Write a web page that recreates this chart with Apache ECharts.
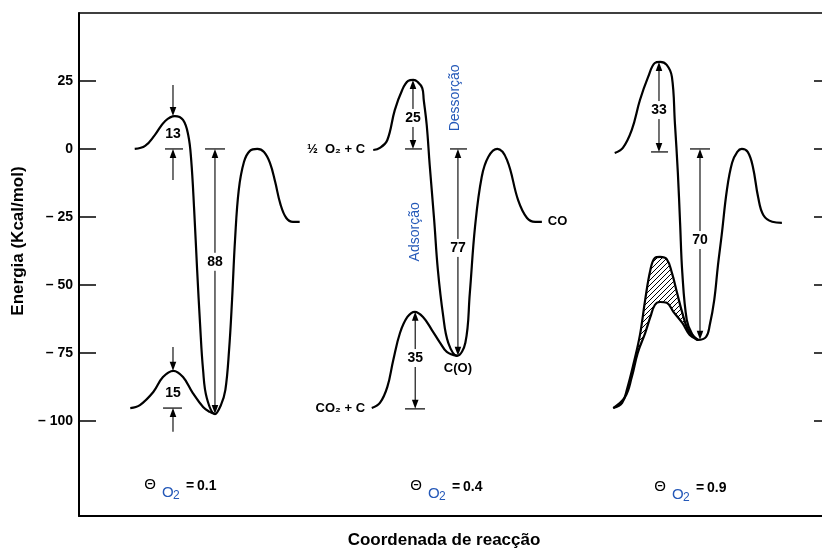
<!DOCTYPE html>
<html><head><meta charset="utf-8">
<script src="https://cdn.jsdelivr.net/npm/echarts@6/dist/echarts.min.js"></script>
<style>html,body{margin:0;padding:0;background:#fff}#c{width:822px;height:549px}</style>
</head><body><div id="c"></div>
<script>
// ---------- DATA (x: reaction coordinate 0..100, y: energy kcal/mol) ----------
const yTickValues = [25, 0, -25, -50, -75, -100];

// Panel 1 (theta = 0.1)
const p1Oxygen = [[7.5,0],[8.9,1.1],[10.2,5.1],[11.6,10.3],[12.9,12.1],[14.0,10.7],[14.7,5.1],[15.1,-4.0],[15.5,-22.4],[15.9,-44.5],[16.3,-64.7],[16.7,-81.3],[17.2,-91.6],[18.3,-97.5],[19.1,-94.2],[19.7,-88.6],[20.2,-73.9],[20.6,-55.5],[21.0,-33.5],[21.5,-15.1],[22.2,-4.8],[23.0,-0.7],[24.0,0],[24.9,-1.1],[25.7,-5.1],[26.4,-12.1],[27.1,-20.2],[27.9,-25.4],[28.8,-26.8],[29.7,-26.8]];
const p1Dioxide = [[6.9,-95.3],[8.2,-94.2],[10.0,-89.4],[11.3,-83.9],[12.7,-81.6],[14.0,-83.9],[15.3,-89.7],[16.7,-94.9],[17.6,-96.7],[18.3,-97.5]];

// Panel 2 (theta = 0.4)
const p2Oxygen = [[39.6,-0.4],[40.5,0.4],[41.5,3.3],[42.5,14.3],[43.5,21.7],[44.3,25.0],[45.0,25.4],[45.6,24.6],[46.2,22.4],[46.4,18.0],[46.8,8.8],[47.2,-5.9],[47.8,-26.1],[48.3,-44.5],[49.0,-61.1],[49.7,-71.3],[50.9,-76.1],[52.0,-71.3],[52.6,-53.0],[53.3,-28.7],[54.2,-10.3],[55.1,-2.9],[56.3,0],[57.6,-4.0],[59.1,-18.8],[60.3,-25.4],[61.4,-26.8],[62.3,-26.8]];
const p2Dioxide = [[39.4,-95.3],[40.5,-93.4],[41.5,-87.5],[42.3,-77.6],[43.2,-67.7],[44.2,-61.8],[45.2,-59.9],[46.3,-61.8],[47.5,-66.6],[48.6,-71.3],[49.5,-74.6],[50.9,-76.1]];

// Panel 3 (theta = 0.9)
const p3Oxygen = [[72.1,-1.5],[73.2,0.4],[74.4,7.0],[75.5,18.0],[76.6,26.5],[77.5,31.6],[78.2,32.0],[79.1,30.9],[79.8,26.5],[80.2,9.6],[80.6,-8.8],[80.9,-27.2],[81.2,-45.6],[81.8,-62.9],[82.5,-68.0],[83.3,-70.2],[84.4,-69.1],[84.9,-64.7],[85.5,-55.5],[86.0,-42.7],[86.5,-31.6],[87.2,-15.1],[87.9,-5.1],[88.6,-1.1],[89.2,0],[90.0,-1.1],[90.7,-6.6],[91.4,-17.7],[92.1,-24.3],[93.3,-26.8],[94.6,-27.2]];
const p3DioxideOuter = [[71.9,-95.3],[73.1,-93.4],[73.8,-87.9],[74.6,-79.4],[75.5,-68.4],[76.2,-55.5],[76.9,-44.5],[77.5,-40.1],[78.2,-39.7],[79.1,-40.5],[79.8,-45.6],[80.5,-53.0],[81.2,-60.3],[82.0,-66.6],[83.3,-70.2]];
const p3DioxideInner = [[71.9,-95.3],[73.5,-91.2],[74.4,-83.9],[75.2,-75.0],[76.2,-67.7],[76.9,-61.8],[77.5,-57.4],[78.2,-56.3],[79.1,-56.6],[80.0,-59.9],[81.2,-64.0],[82.2,-68.4],[83.3,-70.2]];

// Arrows: [x, from, tip]
const arrows = [
  [12.65, 23.5, 12.1], [12.65, -11.4, 0],
  [18.3, -41.5, 0], [18.3, -41.5, -97.5],
  [12.65, -72.8, -81.6], [12.65, -104.0, -95.3],
  [44.95, 11.4, 25.4], [44.95, 11.4, 0],
  [51.0, -36.4, 0], [51.0, -36.4, -76.1],
  [45.25, -76.9, -59.9], [45.25, -76.9, -95.6],
  [78.06, 14.3, 32.0], [78.06, 14.3, -1.1],
  [83.58, -33.5, 0], [83.58, -33.5, -70.2]
];
// Reference bars: [xFrom, xTo, y]
const refBars = [
  [11.57, 14.0, 0], [16.96, 19.65, 0], [11.31, 13.86, -95.3],
  [43.88, 46.16, 0], [49.93, 52.22, 0], [43.88, 46.57, -95.6],
  [76.99, 79.28, -1.1], [82.23, 84.93, 0]
];
// Energy gap labels: [x, y, text]
const gapLabels = [
  [12.65, 5.5, '13'], [18.3, -41.5, '88'], [12.65, -89.7, '15'],
  [44.95, 11.4, '25'], [51.0, -36.4, '77'], [45.25, -76.9, '35'],
  [78.06, 14.3, '33'], [83.58, -33.5, '70']
];
// Species labels: [x, y, text, anchor]
const speciesLabels = [
  [38.5, 0, '½  O₂ + C', 'right'],
  [38.5, -95.6, 'CO₂ + C', 'right'],
  [63.1, -26.8, 'CO', 'left'],
  [51.0, -80.9, 'C(O)', 'center']
];
// Process labels (vertical): [x, y, text]
const processLabels = [
  [45.22, -30.5, 'Adsorção'],
  [50.61, 18.8, 'Dessorção']
];
// Coverage labels: [x, y, theta]
const coverageLabels = [
  [9.56, -123.6, '0.1'],
  [45.36, -123.9, '0.4'],
  [78.2, -124.3, '0.9']
];

// ---------- CHART ----------
const FONT = '"Liberation Sans", Arial, sans-serif';
const BLUE = '#2458b8';
const chart = echarts.init(document.getElementById('c'), null, {renderer: 'canvas'});

const hatch = document.createElement('canvas');
hatch.width = 5; hatch.height = 5;
(function(){
  const g = hatch.getContext('2d');
  g.strokeStyle = '#000'; g.lineWidth = 1;
  g.beginPath();
  g.moveTo(0,5); g.lineTo(5,0);
  g.moveTo(-1,1); g.lineTo(1,-1);
  g.moveTo(4,6); g.lineTo(6,4);
  g.stroke();
})();

function curve(data) {
  return {
    type: 'line', data: data, smooth: 0.4, showSymbol: false, symbol: 'none',
    lineStyle: {color: '#000', width: 2.2}, z: 3, silent: true, animation: false
  };
}

const labelFmt = v => v < 0 ? '\u2013 ' + (-v) : String(v);

const option = {
  animation: false,
  backgroundColor: '#fff',
  grid: {left: 79, right: 0, top: 13, bottom: 33, containLabel: false, outerBoundsMode: 'none'},
  xAxis: [
    {type: 'value', min: 0, max: 100, position: 'bottom',
     axisLine: {show: true, onZero: false, lineStyle: {color: '#000', width: 2}},
     axisTick: {show: false}, axisLabel: {show: false}, splitLine: {show: false},
     name: 'Coordenada de reacção', nameLocation: 'middle', nameGap: 16,
     nameTextStyle: {fontFamily: FONT, fontWeight: 'bold', fontSize: 17, color: '#000', padding: [0, 13, 0, 0]}},
    {type: 'value', min: 0, max: 100, position: 'top',
     axisLine: {show: true, onZero: false, lineStyle: {color: '#000', width: 1.5}},
     axisTick: {show: false}, axisLabel: {show: false}, splitLine: {show: false}}
  ],
  yAxis: [
    {type: 'value', min: -135, max: 50, position: 'left',
     axisLine: {show: true, onZero: false, lineStyle: {color: '#000', width: 2}},
     axisTick: {show: true, inside: true, length: 17, customValues: yTickValues, lineStyle: {color: '#000', width: 1.5}},
     axisLabel: {customValues: yTickValues, formatter: labelFmt, margin: 6, color: '#000', fontWeight: 'bold', fontSize: 14, fontFamily: FONT},
     splitLine: {show: false},
     name: 'Energia (Kcal/mol)', nameLocation: 'middle', nameGap: 47, nameRotate: 90,
     nameTextStyle: {fontFamily: FONT, fontWeight: 'bold', fontSize: 17, color: '#000', padding: [0, 0, 0, 47]}},
    {type: 'value', min: -135, max: 50, position: 'right',
     axisLine: {show: false, onZero: false},
     axisTick: {show: true, inside: true, length: 8, customValues: yTickValues, lineStyle: {color: '#000', width: 1.5}},
     axisLabel: {show: false}, splitLine: {show: false}}
  ],
  series: [
    {
      type: 'custom', silent: true, z: 2,
      data: [[p3DioxideOuter[0][0], p3DioxideOuter[0][1]]], encode: {x: 0, y: 1},
      renderItem: function (params, api) {
        const pts = p3DioxideOuter.concat(p3DioxideInner.slice().reverse()).map(p => api.coord(p));
        return {type: 'polygon', shape: {points: pts, smooth: 0.2},
                style: {fill: {image: hatch, repeat: 'repeat'}, stroke: null}};
      }
    },
    curve(p1Oxygen), curve(p1Dioxide),
    curve(p2Oxygen), curve(p2Dioxide),
    curve(p3Oxygen), curve(p3DioxideOuter), curve(p3DioxideInner),
    {
      type: 'custom', silent: true, z: 4, data: refBars, encode: {x: [0, 1], y: 2},
      renderItem: function (params, api) {
        const a = api.coord([api.value(0), api.value(2)]);
        const b = api.coord([api.value(1), api.value(2)]);
        return {type: 'line', shape: {x1: a[0], y1: a[1], x2: b[0], y2: b[1]},
                style: {stroke: '#000', lineWidth: 1.2}};
      }
    },
    {
      type: 'custom', silent: true, z: 4, data: arrows, encode: {x: 0, y: [1, 2]},
      renderItem: function (params, api) {
        const x = api.value(0);
        const a = api.coord([x, api.value(1)]);
        const b = api.coord([x, api.value(2)]);
        const dir = b[1] > a[1] ? 1 : -1;
        const L = 9, W = 3.3;
        return {type: 'group', children: [
          {type: 'line', shape: {x1: a[0], y1: a[1], x2: b[0], y2: b[1] - dir * L * 0.6},
           style: {stroke: '#000', lineWidth: 1.1}},
          {type: 'polygon', shape: {points: [[b[0], b[1]], [b[0] - W, b[1] - dir * L], [b[0] + W, b[1] - dir * L]]},
           style: {fill: '#000'}}
        ]};
      }
    },
    {
      type: 'custom', silent: true, z: 6, data: gapLabels.map(d => [d[0], d[1]]), encode: {x: 0, y: 1},
      renderItem: function (params, api) {
        const p = api.coord([api.value(0), api.value(1)]);
        return {type: 'text', x: p[0], y: p[1],
                style: {text: gapLabels[params.dataIndex][2], font: 'bold 14px ' + FONT, fill: '#000',
                        align: 'center', verticalAlign: 'middle', backgroundColor: '#fff', padding: [2, 1]}};
      }
    },
    {
      type: 'custom', silent: true, z: 6, data: speciesLabels.map(d => [d[0], d[1]]), encode: {x: 0, y: 1},
      renderItem: function (params, api) {
        const p = api.coord([api.value(0), api.value(1)]);
        const d = speciesLabels[params.dataIndex];
        return {type: 'text', x: p[0], y: p[1],
                style: {text: d[2], font: 'bold 13px ' + FONT, fill: '#000', align: d[3], verticalAlign: 'middle'}};
      }
    },
    {
      type: 'custom', silent: true, z: 6, data: processLabels.map(d => [d[0], d[1]]), encode: {x: 0, y: 1},
      renderItem: function (params, api) {
        const p = api.coord([api.value(0), api.value(1)]);
        return {type: 'text', x: p[0], y: p[1], rotation: Math.PI / 2,
                style: {text: processLabels[params.dataIndex][2], font: '14px ' + FONT, fill: BLUE,
                        align: 'center', verticalAlign: 'middle'}};
      }
    },
    {
      type: 'custom', silent: true, z: 6, data: coverageLabels.map(d => [d[0], d[1]]), encode: {x: 0, y: 1},
      renderItem: function (params, api) {
        const p = api.coord([api.value(0), api.value(1)]);
        const v = coverageLabels[params.dataIndex][2];
        return {type: 'group', x: p[0], y: p[1], children: [
          {type: 'text', x: 0, y: 0, style: {text: 'Θ', font: '15px ' + FONT, fill: '#000', align: 'center', verticalAlign: 'middle'}},
          {type: 'text', x: 12, y: 8, style: {text: 'O', font: '15px ' + FONT, fill: BLUE, align: 'left', verticalAlign: 'middle'}},
          {type: 'text', x: 23, y: 11, style: {text: '2', font: '12px ' + FONT, fill: BLUE, align: 'left', verticalAlign: 'middle'}},
          {type: 'text', x: 36, y: 1, style: {text: '=\u2009' + v, font: 'bold 14px ' + FONT, fill: '#000', align: 'left', verticalAlign: 'middle'}}
        ]};
      }
    }
  ]
};
chart.setOption(option);
</script>
</body></html>
